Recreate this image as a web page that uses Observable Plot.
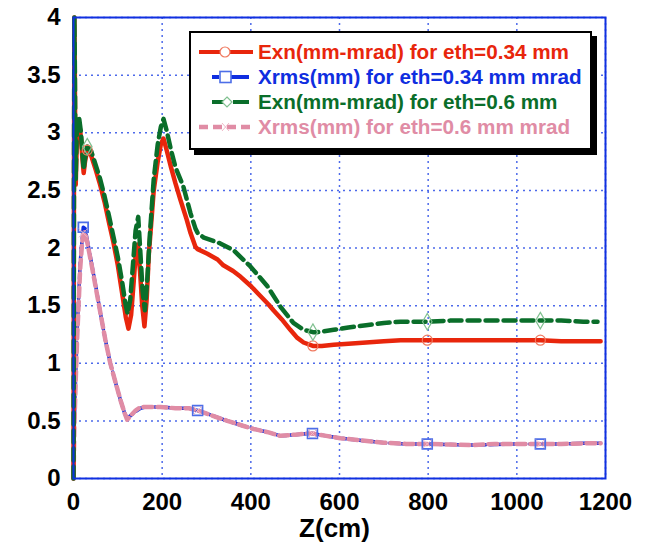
<!DOCTYPE html>
<html>
<head>
<meta charset="utf-8">
<script src="https://cdn.jsdelivr.net/npm/d3@7"></script>
<script src="https://cdn.jsdelivr.net/npm/@observablehq/plot@0.6"></script>
<style>
  html, body { margin: 0; padding: 0; background: #fff; }
  #wrap { position: relative; width: 656px; height: 543px; font-family: "Liberation Sans", Arial, sans-serif; }
  #legend { position: absolute; left: 189px; top: 31px; width: 399px; height: 109px; border: 2px solid #000;
    background: #fff; box-shadow: 5px 5px 0 #000; padding-top: 6px; box-sizing: content-box; }
  .row { height: 25px; display: flex; align-items: center; font-weight: bold; font-size: 20.7px; white-space: nowrap; }
  .row svg { margin-left: 6px; margin-right: 3px; flex: none; }
</style>
</head>
<body>
<div id="wrap"></div>
<script>
// ---- data ----
const zExn034 = [0,1,2,3,4,5,7,9,13,17,20,23,26,31,40,50,60,70,80,90,100,110,118,124,130,136,141,145,150,155,160,165,170,181,190,197,203,210,220,230,241,255,264,275,280,302,325,338,360,377,400,415,440,451,470,489,505,519,540,560,587,620,660,700,738,798,850,900,950,1000,1053,1100,1150,1189];
const exn034  = [0,2.5,4.0,3.5,2.9,2.55,2.85,3.05,3.08,2.95,2.78,2.65,2.75,2.85,2.8,2.68,2.55,2.4,2.22,2.05,1.85,1.6,1.4,1.3,1.42,1.72,1.98,2.03,1.8,1.5,1.32,1.55,1.95,2.5,2.75,2.9,2.95,2.85,2.7,2.56,2.42,2.25,2.13,2.01,1.99,1.95,1.9,1.85,1.8,1.75,1.67,1.61,1.51,1.46,1.38,1.29,1.22,1.18,1.15,1.15,1.16,1.17,1.18,1.19,1.2,1.2,1.2,1.2,1.2,1.2,1.2,1.19,1.19,1.19];

const zExn06 = [0,1,2,3,4,5,7,9,13,17,20,23,26,31,40,50,60,70,80,90,100,110,117,122,128,134,140,146,151,156,161,166,172,181,190,197,203,210,220,230,248,264,275,280,294,331,361,399,437,467,496,519,540,550,587,620,660,700,738,798,850,900,950,1000,1053,1100,1150,1182];
const exn06  = [0,2.5,4.0,3.6,3.0,2.6,2.95,3.12,3.12,3.0,2.82,2.68,2.78,2.88,2.84,2.72,2.6,2.45,2.28,2.1,1.92,1.7,1.52,1.43,1.55,1.85,2.15,2.27,1.95,1.62,1.46,1.7,2.1,2.6,2.9,3.05,3.12,3.02,2.85,2.7,2.53,2.3,2.17,2.13,2.09,2.04,1.98,1.84,1.67,1.49,1.35,1.29,1.27,1.27,1.29,1.31,1.33,1.35,1.36,1.36,1.37,1.37,1.37,1.37,1.37,1.37,1.36,1.36];

const zXrms034 = [0,2,5,8,12,15,19,22,26,32,42,52,61,72,83,95,106,115,121,130,140,151,162,174,196,230,260,280,310,347,380,406,440,467,500,528,539,570,602,650,700,750,798,850,900,950,1000,1053,1100,1150,1189];
const xrms034  = [0,0.5,0.9,1.26,1.6,1.87,2.05,2.18,2.17,2.05,1.84,1.63,1.43,1.2,1.0,0.83,0.68,0.57,0.52,0.55,0.58,0.61,0.62,0.62,0.62,0.61,0.61,0.59,0.55,0.5,0.46,0.43,0.4,0.37,0.38,0.39,0.39,0.37,0.35,0.33,0.31,0.3,0.3,0.295,0.29,0.295,0.3,0.3,0.3,0.305,0.305];

const zXrms06 = [0,2,5,8,12,15,19,22,26,32,42,52,61,72,83,95,106,115,121,130,140,151,162,174,196,230,260,280,310,347,380,406,440,467,500,528,539,570,602,650,700,750,798,850,900,950,1000,1053,1100,1150,1189];
const xrms06  = [0,0.45,0.85,1.2,1.55,1.82,2.02,2.13,2.14,2.03,1.83,1.62,1.43,1.2,1.0,0.83,0.68,0.57,0.51,0.55,0.59,0.62,0.62,0.62,0.62,0.61,0.61,0.59,0.55,0.5,0.46,0.43,0.4,0.37,0.38,0.39,0.39,0.37,0.35,0.33,0.31,0.3,0.3,0.295,0.29,0.3,0.3,0.3,0.3,0.305,0.305];

const markersExn = [31, 540, 798, 1053];
const markersXrms = [22, 280, 539, 798, 1053];

const xTicks = [0,200,400,600,800,1000,1200];
const xTickLabels = ["0","200","400","600","800","1000","1200"];
const yTicks = [0,0.5,1,1.5,2,2.5,3,3.5,4];
const yTickLabels = ["0","0.5","1","1.5","2","2.5","3","3.5","4"];

const seriesNames = [
  "Exn(mm-mrad) for eth=0.34 mm",
  "Xrms(mm) for eth=0.34 mm mrad",
  "Exn(mm-mrad) for eth=0.6 mm",
  "Xrms(mm) for eth=0.6 mm mrad"
];
const colors = ["#e8260c", "#0f2ee0", "#0a6e2a", "#e08ca5"];

// ---- build tables ----
const rows = (zs, vs) => zs.map((z, i) => ({z, v: vs[i]}));
const dRed = rows(zExn034, exn034);
const dGreen = rows(zExn06, exn06);
const dBlue = rows(zXrms034, xrms034);
const dPink = rows(zXrms06, xrms06);
const pick = (d, zs) => d.filter(p => zs.includes(p.z));

const gridColor = "#3a5ae8";

const chart = Plot.plot({
  width: 656,
  height: 543,
  marginLeft: 73,
  marginRight: 51,
  marginTop: 17,
  marginBottom: 65,
  style: {fontFamily: "'Liberation Sans', Arial, sans-serif", fontWeight: "bold", fontSize: "24px", color: "#000", background: "#fff"},
  x: {domain: [0, 1200], ticks: xTicks, tickSize: 0, tickPadding: 14, label: null,
      tickFormat: d => xTickLabels[xTicks.indexOf(d)]},
  y: {domain: [0, 4], ticks: yTicks, tickSize: 0, tickPadding: 13, label: null,
      tickFormat: d => yTickLabels[yTicks.indexOf(d)]},
  marks: [
    Plot.gridX(xTicks, {stroke: gridColor, strokeOpacity: 0.9, strokeWidth: 1.5, strokeDasharray: "2,4"}),
    Plot.gridY(yTicks, {stroke: gridColor, strokeOpacity: 0.9, strokeWidth: 1.5, strokeDasharray: "2,4"}),
    Plot.line(dBlue, {x: "z", y: "v", stroke: colors[1], strokeWidth: 3.5, strokeDasharray: "16,4"}),
    Plot.line(dPink, {x: "z", y: "v", stroke: colors[3], strokeWidth: 4.5, strokeDasharray: "9,5"}),
    Plot.line(dRed, {x: "z", y: "v", stroke: colors[0], strokeWidth: 4.5}),
    Plot.line(dGreen, {x: "z", y: "v", stroke: colors[2], strokeWidth: 4.5, strokeDasharray: "12,6"}),
    Plot.dot(pick(dRed, markersExn), {x: "z", y: "v", r: 5, stroke: "#f07a60", strokeWidth: 1.2, fill: "none"}),
    Plot.dot(pick(dGreen, markersExn), {x: "z", y: "v", symbol: "diamond", r: 5, stroke: "#80c090", strokeWidth: 1.2, fill: "none"}),
    Plot.dot(pick(dBlue, markersXrms), {x: "z", y: "v", symbol: "square", r: 5.5, stroke: "#4d6ee8", strokeWidth: 1.8, fill: "none"}),
    Plot.dot(pick(dPink, markersXrms), {x: "z", y: "v", symbol: "times", r: 4, stroke: "#f0b8c8", strokeWidth: 1, fill: "none"}),
    Plot.frame({stroke: "#1030e0", strokeWidth: 2}),
    Plot.text(["Z(cm)"], {frameAnchor: "bottom", lineAnchor: "top", dy: 40, dx: -5, fontSize: 26, fontWeight: "bold", fill: "#000"})
  ]
});

const wrap = document.getElementById("wrap");
wrap.appendChild(chart);

// ---- legend ----
const samples = [
  `<svg width="58" height="14"><line x1="2" y1="7" x2="56" y2="7" stroke="${colors[0]}" stroke-width="4"/><circle cx="28" cy="7" r="5" fill="#fff" stroke="#f07a60" stroke-width="1.2"/></svg>`,
  `<svg width="58" height="14"><line x1="15" y1="7" x2="22" y2="7" stroke="${colors[1]}" stroke-width="4"/><line x1="34" y1="7" x2="52" y2="7" stroke="${colors[1]}" stroke-width="4"/><rect x="23" y="1.5" width="11" height="11" fill="#fff" stroke="#4d6ee8" stroke-width="1.6"/></svg>`,
  `<svg width="58" height="14"><line x1="15" y1="7" x2="27" y2="7" stroke="${colors[2]}" stroke-width="4"/><line x1="36" y1="7" x2="52" y2="7" stroke="${colors[2]}" stroke-width="4"/><path d="M30 2 L35 7 L30 12 L25 7 Z" fill="#fff" stroke="#80c090" stroke-width="1.2"/></svg>`,
  `<svg width="58" height="14"><line x1="2" y1="7" x2="56" y2="7" stroke="${colors[3]}" stroke-width="4.5" stroke-dasharray="9,5"/><path d="M25 3 L32 11 M32 3 L25 11" stroke="#f0b8c8" stroke-width="1"/></svg>`
];
const legend = document.createElement("div");
legend.id = "legend";
legend.innerHTML = seriesNames.map((name, i) =>
  `<div class="row" style="color:${colors[i]}">${samples[i]}<span>${name}</span></div>`).join("");
wrap.appendChild(legend);
</script>
</body>
</html>
